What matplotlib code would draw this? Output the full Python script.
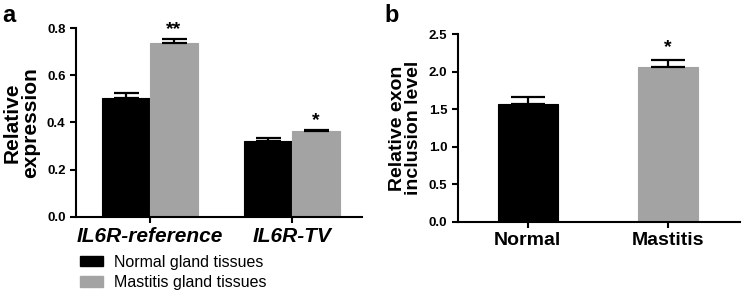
import matplotlib
matplotlib.use("Agg")
import matplotlib.pyplot as plt
from matplotlib.patches import Patch

plt.rcParams["font.family"] = ["Liberation Sans", "DejaVu Sans"]
plt.rcParams["font.weight"] = "bold"

# Panel a data
genes = ["IL6R-reference", "IL6R-TV"]
normal_expr = [0.502, 0.323]
normal_err = [0.021, 0.010]
mastitis_expr = [0.735, 0.364]
mastitis_err = [0.017, 0.004]
stars_a = ["**", "*"]

# Panel b data
groups_b = ["Normal", "Mastitis"]
inclusion = [1.566, 2.068]
inclusion_err = [0.102, 0.089]
stars_b = ["", "*"]

black = "#000000"
grey = "#a3a3a3"

fig = plt.figure(figsize=(7.42, 2.92), dpi=100)

# ---- panel a
ax1 = fig.add_axes([0.1024, 0.257, 0.3854, 0.647])
w = 0.338
xs = list(range(len(genes)))
x_n = [x - w / 2 for x in xs]
x_m = [x + w / 2 for x in xs]
ax1.bar(x_n, normal_expr, w, color=black, edgecolor=black, linewidth=0.8)
ax1.bar(x_m, mastitis_expr, w, color=grey, edgecolor=grey, linewidth=0.8)
ax1.errorbar(x_n, normal_expr, yerr=[[0] * 2, normal_err], fmt="none",
             ecolor=black, elinewidth=1.6, capsize=9, capthick=1.6)
ax1.errorbar(x_m, mastitis_expr, yerr=[[0] * 2, mastitis_err], fmt="none",
             ecolor=black, elinewidth=1.6, capsize=9, capthick=1.6)
for x, v, e, s in zip(x_m, mastitis_expr, mastitis_err, stars_a):
    ax1.annotate(s, (x, v + e), xytext=(0, 1), textcoords="offset points",
                 ha="center", va="bottom", fontsize=14, fontweight="bold")
ax1.set_xlim(-0.521, 1.493)
ax1.set_ylim(0, 0.8)
ax1.set_yticks([0.0, 0.2, 0.4, 0.6, 0.8])
ax1.set_yticklabels(["0.0", "0.2", "0.4", "0.6", "0.8"])
ax1.set_xticks(xs)
ax1.set_xticklabels(genes, fontsize=15, fontstyle="italic", fontweight="bold")
ax1.set_ylabel("Relative\nexpression", fontsize=15, fontweight="bold",
               linespacing=0.95, labelpad=5)
ax1.legend(handles=[Patch(color=black, label="Normal gland tissues"),
                    Patch(color=grey, label="Mastitis gland tissues")],
           loc="upper left", bbox_to_anchor=(0.014, -0.2), frameon=False,
           handlelength=1.45, handleheight=0.65, borderpad=0,
           handletextpad=0.65, borderaxespad=0, labelspacing=0.35,
           prop={"weight": "normal", "size": 11.5})

# ---- panel b
ax2 = fig.add_axes([0.617, 0.241, 0.380, 0.6415])
wb = 0.43
xb = list(range(len(groups_b)))
ax2.bar(xb, inclusion, wb, color=[black, grey], edgecolor=[black, grey], linewidth=0.8)
ax2.errorbar(xb, inclusion, yerr=[[0] * 2, inclusion_err], fmt="none",
             ecolor=black, elinewidth=1.6, capsize=12, capthick=1.6)
for x, v, e, s in zip(xb, inclusion, inclusion_err, stars_b):
    if s:
        ax2.annotate(s, (x, v + e), xytext=(0, 3), textcoords="offset points",
                     ha="center", va="bottom", fontsize=14, fontweight="bold")
ax2.set_xlim(-0.5, 1.514)
ax2.set_ylim(0, 2.5)
ax2.set_yticks([0.0, 0.5, 1.0, 1.5, 2.0, 2.5])
ax2.set_yticklabels(["0.0", "0.5", "1.0", "1.5", "2.0", "2.5"])
ax2.set_xticks(xb)
ax2.set_xticklabels(groups_b, fontsize=14, fontweight="bold")
ax2.set_ylabel("Relative exon\ninclusion level", fontsize=14, fontweight="bold",
               linespacing=0.95, labelpad=5)

for ax in (ax1, ax2):
    ax.spines["top"].set_visible(False)
    ax.spines["right"].set_visible(False)
    ax.spines["left"].set_linewidth(1.5)
    ax.spines["bottom"].set_linewidth(1.5)
    ax.tick_params(axis="both", width=1.5, length=4, direction="out")
    ax.tick_params(axis="y", labelsize=9.5)
    for t in ax.get_yticklabels():
        t.set_fontweight("bold")

fig.text(0.003, 0.985, "a", fontsize=17, fontweight="bold", va="top")
fig.text(0.518, 0.985, "b", fontsize=17, fontweight="bold", va="top")

fig.savefig("out.png", dpi=100)
